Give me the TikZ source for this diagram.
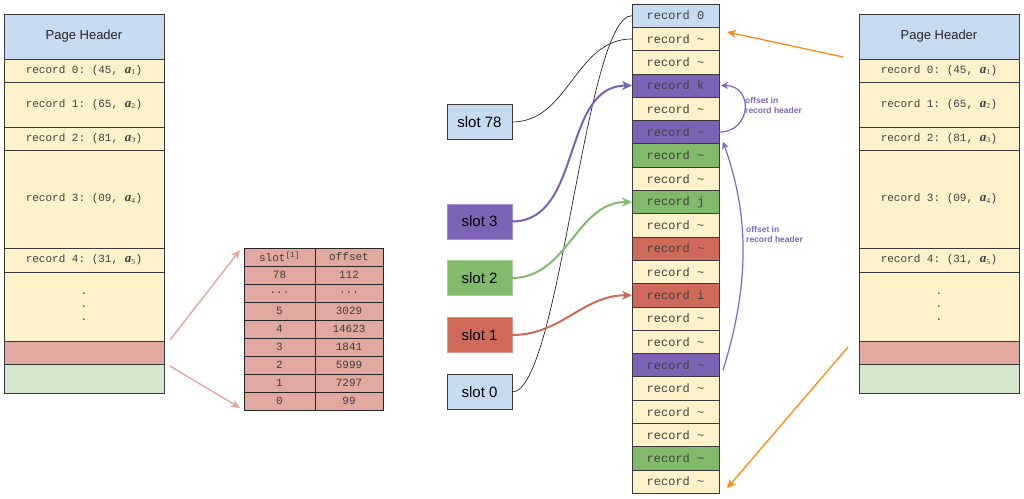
\documentclass[tikz,border=0pt]{standalone}
\usepackage{amsmath,amssymb}
\usepackage{fontspec}
\setmainfont{Liberation Sans}
\setmonofont{Liberation Mono}
\newfontfamily\recserif{Liberation Serif}
\usepackage{xcolor}
\usepackage{tikz}
\usetikzlibrary{positioning,arrows.meta}
\definecolor{slotBlue}{HTML}{C7DBF0}
\definecolor{recYellow}{HTML}{FFF1C9}
\definecolor{dirPink}{HTML}{E0A89F}
\definecolor{trailGreen}{HTML}{D3E6CC}
\definecolor{recPurple}{HTML}{7B62B5}
\definecolor{recGreen}{HTML}{82BA6C}
\definecolor{recRed}{HTML}{CF6A5B}
\definecolor{offPurple}{HTML}{7E66C2}
\definecolor{arrOrange}{HTML}{FF8A12}
\definecolor{lineGray}{HTML}{3A3A3A}
\newcommand{\av}[1]{{\recserif\fontsize{13}{13}\selectfont\bfseries\itshape a}\textsubscript{\recserif#1}}
\tikzset{
  headbox/.style={draw=lineGray,fill=slotBlue,line width=0.8pt,outer sep=0pt,inner sep=0pt,
    minimum width=160pt,minimum height=45pt,font=\fontsize{13}{15}\selectfont,text=black!85},
  pagerow/.style={draw=lineGray,fill=recYellow,line width=0.8pt,outer sep=0pt,inner sep=0pt,
    minimum width=160pt,align=center,font=\ttfamily\fontsize{11}{13}\selectfont,text=black!75},
  tcell/.style={draw=black!85,fill=dirPink,line width=0.8pt,outer sep=0pt,inner sep=0pt,
    minimum height=18pt,font=\ttfamily\fontsize{11}{13}\selectfont,text=black!75},
  slotcol/.style={minimum width=71pt},
  offcol/.style={minimum width=68pt},
  recrow/.style={draw=lineGray,fill=recYellow,line width=0.8pt,outer sep=0pt,inner sep=0pt,
    minimum width=87pt,minimum height=23.3pt,font=\ttfamily\fontsize{12}{14}\selectfont,text=black!75},
  slotbox/.style={draw=lineGray,line width=0.8pt,outer sep=0pt,
    minimum width=65pt,minimum height=35pt,font=\fontsize{15}{18}\selectfont},
  thinlink/.style={draw=black!85,line width=0.7pt},
  slotarrow/.style={-{Stealth[length=10pt,width=9pt,inset=3pt]},line width=2pt},
  offarrow/.style={-{Stealth[length=7pt,width=7pt,inset=2pt]},line width=1.2pt,draw=offPurple},
  orangearrow/.style={-{Stealth[length=9pt,width=8pt,inset=2.5pt]},line width=1.3pt,draw=arrOrange},
  pinkarrow/.style={-{Stealth[length=9pt,width=8pt,inset=2.5pt]},line width=1.4pt,draw=dirPink},
  offlabel/.style={anchor=west,align=left,font=\fontsize{8.5}{10}\selectfont\bfseries,text=offPurple,inner sep=0pt}
}

\begin{document}
\begin{tikzpicture}[x=1pt,y=1pt]
  \useasboundingbox (0,0) rectangle (1024,-498);

  % left page
  \node[headbox, anchor=north west] (lhead) at (4,-14) {Page Header};
  \node[pagerow, minimum height=23pt, below=0pt of lhead] (lrec0) {record 0: (45, \av{1})};
  \node[pagerow, minimum height=45pt, below=0pt of lrec0] (lrec1) {record 1: (65, \av{2})};
  \node[pagerow, minimum height=23pt, below=0pt of lrec1] (lrec2) {record 2: (81, \av{3})};
  \node[pagerow, minimum height=98pt, below=0pt of lrec2] (lrec3) {record 3: (09, \av{4})};
  \node[pagerow, minimum height=24pt, below=0pt of lrec3] (lrec4) {record 4: (31, \av{5})};
  \node[pagerow, minimum height=69pt, below=0pt of lrec4] (ldots) {.\\.\\.};
  \node[pagerow, fill=dirPink, minimum height=23pt, below=0pt of ldots] (ldir) {};
  \node[pagerow, fill=trailGreen, minimum height=29pt, below=0pt of ldir] (ltrail) {};

  % right page
  \node[headbox, anchor=north west] (rhead) at (859,-14) {Page Header};
  \node[pagerow, minimum height=23pt, below=0pt of rhead] (rrec0) {record 0: (45, \av{1})};
  \node[pagerow, minimum height=45pt, below=0pt of rrec0] (rrec1) {record 1: (65, \av{2})};
  \node[pagerow, minimum height=23pt, below=0pt of rrec1] (rrec2) {record 2: (81, \av{3})};
  \node[pagerow, minimum height=98pt, below=0pt of rrec2] (rrec3) {record 3: (09, \av{4})};
  \node[pagerow, minimum height=24pt, below=0pt of rrec3] (rrec4) {record 4: (31, \av{5})};
  \node[pagerow, minimum height=69pt, below=0pt of rrec4] (rdots) {.\\.\\.};
  \node[pagerow, fill=dirPink, minimum height=23pt, below=0pt of rdots] (rdir) {};
  \node[pagerow, fill=trailGreen, minimum height=29pt, below=0pt of rdir] (rtrail) {};

  % page directory
  \node[tcell, slotcol, anchor=north west] (tslot) at (244,-248) {slot\textsuperscript{[1]}};
  \node[tcell, offcol, right=0pt of tslot] (toff) {offset};
  \node[tcell, slotcol, below=0pt of tslot] (ts78) {78};
  \node[tcell, offcol, below=0pt of toff] (to78) {112};
  \node[tcell, slotcol, below=0pt of ts78] (tsdots) {...};
  \node[tcell, offcol, below=0pt of to78] (todots) {...};
  \node[tcell, slotcol, below=0pt of tsdots] (ts5) {5};
  \node[tcell, offcol, below=0pt of todots] (to5) {3029};
  \node[tcell, slotcol, below=0pt of ts5] (ts4) {4};
  \node[tcell, offcol, below=0pt of to5] (to4) {14623};
  \node[tcell, slotcol, below=0pt of ts4] (ts3) {3};
  \node[tcell, offcol, below=0pt of to4] (to3) {1841};
  \node[tcell, slotcol, below=0pt of ts3] (ts2) {2};
  \node[tcell, offcol, below=0pt of to3] (to2) {5999};
  \node[tcell, slotcol, below=0pt of ts2] (ts1) {1};
  \node[tcell, offcol, below=0pt of to2] (to1) {7297};
  \node[tcell, slotcol, below=0pt of ts1] (ts0) {0};
  \node[tcell, offcol, below=0pt of to1] (to0) {99};

  \draw[pinkarrow] ([shift={(6pt,1pt)}]ldir.north east) -- ([shift={(-4pt,-2pt)}]tslot.north west);
  \draw[pinkarrow] ([shift={(6pt,-2pt)}]ltrail.north east) -- ([shift={(-4pt,2pt)}]ts0.south west);

  % record heap
  \node[recrow, fill=slotBlue, anchor=north west] (r0) at (632,-4) {record 0};
  \node[recrow, below=0pt of r0] (r1) {record \textasciitilde};
  \node[recrow, below=0pt of r1] (r2) {record \textasciitilde};
  \node[recrow, fill=recPurple, below=0pt of r2] (r3) {record k};
  \node[recrow, below=0pt of r3] (r4) {record \textasciitilde};
  \node[recrow, fill=recPurple, below=0pt of r4] (r5) {record \textasciitilde};
  \node[recrow, fill=recGreen, below=0pt of r5] (r6) {record \textasciitilde};
  \node[recrow, below=0pt of r6] (r7) {record \textasciitilde};
  \node[recrow, fill=recGreen, below=0pt of r7] (r8) {record j};
  \node[recrow, below=0pt of r8] (r9) {record \textasciitilde};
  \node[recrow, fill=recRed, below=0pt of r9] (r10) {record \textasciitilde};
  \node[recrow, below=0pt of r10] (r11) {record \textasciitilde};
  \node[recrow, fill=recRed, below=0pt of r11] (r12) {record i};
  \node[recrow, below=0pt of r12] (r13) {record \textasciitilde};
  \node[recrow, below=0pt of r13] (r14) {record \textasciitilde};
  \node[recrow, fill=recPurple, below=0pt of r14] (r15) {record \textasciitilde};
  \node[recrow, below=0pt of r15] (r16) {record \textasciitilde};
  \node[recrow, below=0pt of r16] (r17) {record \textasciitilde};
  \node[recrow, below=0pt of r17] (r18) {record \textasciitilde};
  \node[recrow, fill=recGreen, below=0pt of r18] (r19) {record \textasciitilde};
  \node[recrow, below=0pt of r19] (r20) {record \textasciitilde};

  % slots
  \node[slotbox, fill=slotBlue] (slot78) at (479.5,-122) {slot 78};
  \node[slotbox, fill=recPurple, draw=recPurple!70!white, below=64.5pt of slot78] (slot3) {slot 3};
  \node[slotbox, fill=recGreen, draw=recGreen!70!white, below=21.5pt of slot3] (slot2) {slot 2};
  \node[slotbox, fill=recRed, draw=recRed!70!white, below=22pt of slot2] (slot1) {slot 1};
  \node[slotbox, fill=slotBlue, below=22pt of slot1] (slot0) {slot 0};

  \draw[thinlink] (slot78.east) to[out=0,in=180] (r1.west);
  \draw[thinlink] (slot0.east) .. controls +(48,0) and +(-47,0) .. (r0.west);
  \draw[slotarrow, draw=recPurple] (slot3.east) to[out=0,in=180] (r3.west);
  \draw[slotarrow, draw=recGreen] (slot2.east) to[out=0,in=180] (r8.west);
  \draw[slotarrow, draw=recRed] (slot1.east) to[out=0,in=180] (r12.west);

  % next-record offsets
  \draw[offarrow] (r5.east) to[out=0,in=0,looseness=1.8] ([xshift=2pt]r3.east);
  \node[offlabel] (offA) at (745,-105) {offset in\\record header};
  \draw[offarrow] ([shift={(4pt,-5pt)}]r15.east) .. controls +(28,90) and +(25,-70) .. ([shift={(4pt,2pt)}]r5.south east);
  \node[offlabel] (offB) at (746,-234) {offset in\\record header};

  % page to heap
  \coordinate (oraA) at (843,-57);
  \coordinate (oraB) at (848,-347);
  \draw[orangearrow] (oraA) -- ([shift={(8pt,7pt)}]r1.east);
  \draw[orangearrow] (oraB) -- ([shift={(8pt,5pt)}]r20.south east);
\end{tikzpicture}
\end{document}
